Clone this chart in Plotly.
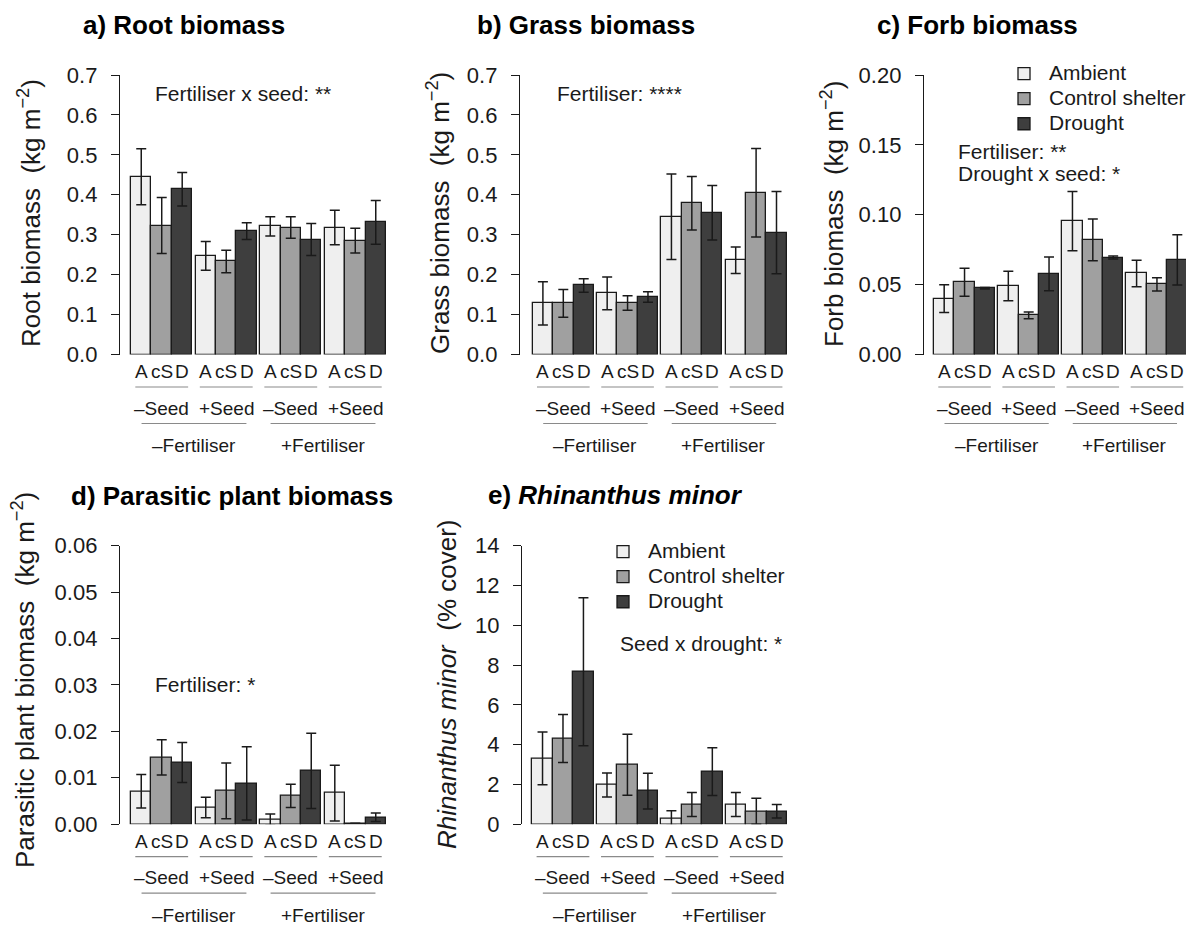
import plotly.graph_objects as go

# ---------------- data ----------------
treatments = ["Ambient", "Control shelter", "Drought"]
bar_letters = ["A", "cS", "D"]
seed_labels = ["\u2013Seed", "+Seed", "\u2013Seed", "+Seed"]
fert_labels = ["\u2013Fertiliser", "+Fertiliser"]

# order inside each list: (-Fert,-Seed), (-Fert,+Seed), (+Fert,-Seed), (+Fert,+Seed)
root_mean = [[0.445, 0.247, 0.321, 0.318],
             [0.323, 0.233, 0.318, 0.285],
             [0.414, 0.309, 0.288, 0.331]]
root_se = [[0.070, 0.036, 0.024, 0.043],
           [0.070, 0.028, 0.027, 0.031],
           [0.042, 0.021, 0.040, 0.055]]

grass_mean = [[0.128, 0.153, 0.345, 0.236],
              [0.128, 0.129, 0.379, 0.405],
              [0.173, 0.144, 0.355, 0.305]]
grass_se = [[0.054, 0.041, 0.107, 0.033],
            [0.035, 0.018, 0.067, 0.111],
            [0.017, 0.013, 0.068, 0.103]]

forb_mean = [[0.0400, 0.0490, 0.0955, 0.0580],
             [0.0517, 0.0280, 0.0820, 0.0502],
             [0.0474, 0.0577, 0.0694, 0.0677]]
forb_se = [[0.0100, 0.0105, 0.0212, 0.0095],
           [0.0100, 0.0025, 0.0150, 0.0048],
           [0.0005, 0.0120, 0.0010, 0.0180]]

parasite_mean = [[0.0071, 0.0036, 0.0010, 0.0067],
                 [0.0144, 0.0072, 0.0061, 0.0002],
                 [0.0133, 0.0088, 0.0115, 0.0015]]
parasite_se = [[0.0036, 0.0022, 0.0012, 0.0060],
               [0.0038, 0.0060, 0.0025, 0.0000],
               [0.0043, 0.0079, 0.0081, 0.0009]]

rhin_mean = [[3.31, 1.97, 0.30, 0.99],
             [4.31, 2.99, 0.99, 0.65],
             [7.66, 1.66, 2.64, 0.65]]
rhin_se = [[1.33, 0.60, 0.37, 0.60],
           [1.21, 1.53, 0.60, 0.65],
           [3.72, 0.90, 1.20, 0.34]]

# ---------------- styling / layout ----------------
W, H = 1194, 927
PAGE_OFF = 8        # the html page body margin
FONT = "Liberation Sans, Arial, Helvetica, sans-serif"
INK = "#1a1a1a"
bar_colors = ["#efefef", "#a0a0a0", "#3e3e3e"]
GAP = 0.15          # gap between groups (in bar widths)
NG = 4
SPAN = NG * 3 + (NG - 1) * GAP


def px(xp):
    return (xp - PAGE_OFF) / W


def py(yp):
    return 1 - (yp - PAGE_OFF) / H


panels = [
    dict(mean=root_mean, se=root_se, ymax=0.7, dtick=0.1, fmt=".1f",
         title="<b>a) Root biomass</b>", tpos=(184, 25),
         ytitle="Root biomass &nbsp;(kg m<sup>\u22122</sup>)", ypos=(30, 213),
         ax=(120, 131, 386), ay=(75, 354.5),
         notes=[("Fertiliser x seed: **", 153, 94)]),
    dict(mean=grass_mean, se=grass_se, ymax=0.7, dtick=0.1, fmt=".1f",
         title="<b>b) Grass biomass</b>", tpos=(586, 25),
         ytitle="Grass biomass &nbsp;(kg m<sup>\u22122</sup>)", ypos=(439, 213),
         ax=(520, 532.7, 786.7), ay=(75, 354.5),
         notes=[("Fertiliser: ****", 555, 94)]),
    dict(mean=forb_mean, se=forb_se, ymax=0.2, dtick=0.05, fmt=".2f",
         title="<b>c) Forb biomass</b>", tpos=(977, 25),
         ytitle="Forb biomass &nbsp;(kg m<sup>\u22122</sup>)", ypos=(832, 214),
         ax=(924, 934, 1187.5), ay=(75, 354.5),
         notes=[("Fertiliser: **", 956, 151), ("Drought x seed: *", 956, 173)]),
    dict(mean=parasite_mean, se=parasite_se, ymax=0.06, dtick=0.01, fmt=".2f",
         title="<b>d) Parasitic plant biomass</b>", tpos=(232, 496),
         ytitle="Parasitic plant biomass &nbsp;(kg m<sup>\u22122</sup>)", ypos=(23, 680),
         ax=(120, 131, 386), ay=(545.7, 824.2),
         notes=[("Fertiliser: *", 153, 684)]),
    dict(mean=rhin_mean, se=rhin_se, ymax=14, dtick=2, fmt="d",
         title="<b>e) <i>Rhinanthus minor</i></b>", tpos=(615, 495),
         ytitle="<i>Rhinanthus minor</i> &nbsp;(% cover)", ypos=(447, 685),
         ax=(522, 532.3, 787), ay=(545.7, 824.2),
         notes=[("Seed x drought: *", 618, 643)]),
]

fig = go.Figure()
annotations = []
shapes = []
layout_axes = {}

for i, p in enumerate(panels):
    n = i + 1
    xname = "x" if n == 1 else f"x{n}"
    yname = "y" if n == 1 else f"y{n}"
    xa, xs, xe = p["ax"]
    k = (xe - xs) / SPAN
    x_range = [-(xs - xa) / k, SPAN + 4 / k]
    layout_axes["xaxis" if n == 1 else f"xaxis{n}"] = dict(
        domain=[px(xa), px(xe + 4)], range=x_range, visible=False,
        showgrid=False, zeroline=False, anchor=yname, automargin=False)
    ytop, ybot = p["ay"]
    layout_axes["yaxis" if n == 1 else f"yaxis{n}"] = dict(
        domain=[py(ybot), py(ytop)], range=[0, p["ymax"]], anchor=xname,
        showgrid=False, zeroline=False, showline=True, linecolor=INK,
        linewidth=1.3, ticks="outside", ticklen=8, tickwidth=1.3,
        tickcolor=INK, tick0=0, dtick=p["dtick"], tickformat=p["fmt"],
        tickfont=dict(family=FONT, size=22, color=INK),
        ticklabelstandoff=9, automargin=False)

    legend_name = "legend" if n == 3 else ("legend2" if n == 5 else None)
    for b, tname in enumerate(treatments):
        xs_pos = [g * (3 + GAP) + b + 0.5 for g in range(NG)]
        fig.add_trace(go.Bar(
            x=xs_pos, y=p["mean"][b], width=1,
            name=f'<span style="font-size:21px">{tname}</span>',
            xaxis=xname, yaxis=yname,
            marker=dict(color=bar_colors[b], line=dict(color=INK, width=1.3)),
            error_y=dict(type="data", array=p["se"][b], visible=True,
                         color=INK, thickness=1.5, width=5),
            showlegend=legend_name is not None,
            legend=legend_name if legend_name else "legend",
            hoverinfo="skip"))

    # titles
    annotations.append(dict(text=p["title"], x=px(p["tpos"][0]), y=py(p["tpos"][1]),
                            xref="paper", yref="paper", showarrow=False,
                            xanchor="center", yanchor="middle",
                            font=dict(family=FONT, size=26, color="#000")))
    annotations.append(dict(text=p["ytitle"], x=px(p["ypos"][0]), y=py(p["ypos"][1]),
                            xref="paper", yref="paper", showarrow=False,
                            textangle=-90, xanchor="center", yanchor="middle",
                            font=dict(family=FONT, size=26, color=INK)))
    for txt, lx, ly in p["notes"]:
        annotations.append(dict(text=txt, x=px(lx), y=py(ly), xref="paper", yref="paper",
                                showarrow=False, xanchor="left", yanchor="middle",
                                font=dict(family=FONT, size=21, color=INK)))

    # category labels beneath the bars
    off = ybot - 354.5
    xref = xname
    for g in range(NG):
        gc = g * (3 + GAP) + 1.5
        for b in range(3):
            annotations.append(dict(text=bar_letters[b], x=g * (3 + GAP) + b + 0.5,
                                    y=py(372 + off), xref=xref, yref="paper",
                                    showarrow=False, xanchor="center", yanchor="middle",
                                    font=dict(family=FONT, size=19, color=INK)))
        shapes.append(dict(type="line", xref=xref, yref="paper",
                           x0=gc - 1.29, x1=gc + 1.29, y0=py(387 + off), y1=py(387 + off),
                           line=dict(color="#8a8a8a", width=1.2)))
        annotations.append(dict(text=seed_labels[g], x=gc, y=py(408 + off), xref=xref,
                                yref="paper", showarrow=False, xanchor="center",
                                yanchor="middle",
                                font=dict(family=FONT, size=19, color=INK)))
    for f in range(2):
        fc = f * 2 * (3 + GAP) + (3 + GAP + 3) / 2
        shapes.append(dict(type="line", xref=xref, yref="paper",
                           x0=fc - 2.56, x1=fc + 2.56, y0=py(423.5 + off), y1=py(423.5 + off),
                           line=dict(color="#8a8a8a", width=1.2)))
        annotations.append(dict(text=fert_labels[f], x=fc, y=py(446 + off), xref=xref,
                                yref="paper", showarrow=False, xanchor="center",
                                yanchor="middle",
                                font=dict(family=FONT, size=19, color=INK)))

legend_common = dict(xanchor="left", yanchor="top", bgcolor="rgba(0,0,0,0)",
                     font=dict(family=FONT, size=17, color=INK), tracegroupgap=0,
                     itemwidth=40, itemclick=False, itemdoubleclick=False)

fig.update_layout(
    width=W, height=H,
    margin=dict(l=0, r=0, t=0, b=0, autoexpand=False),
    paper_bgcolor="white", plot_bgcolor="white",
    barmode="overlay", bargap=0,
    annotations=annotations, shapes=shapes,
    legend=dict(x=px(999), y=py(56), **legend_common),
    legend2=dict(x=px(598), y=py(534), **legend_common),
    **layout_axes,
)

fig.write_html("out.html")
